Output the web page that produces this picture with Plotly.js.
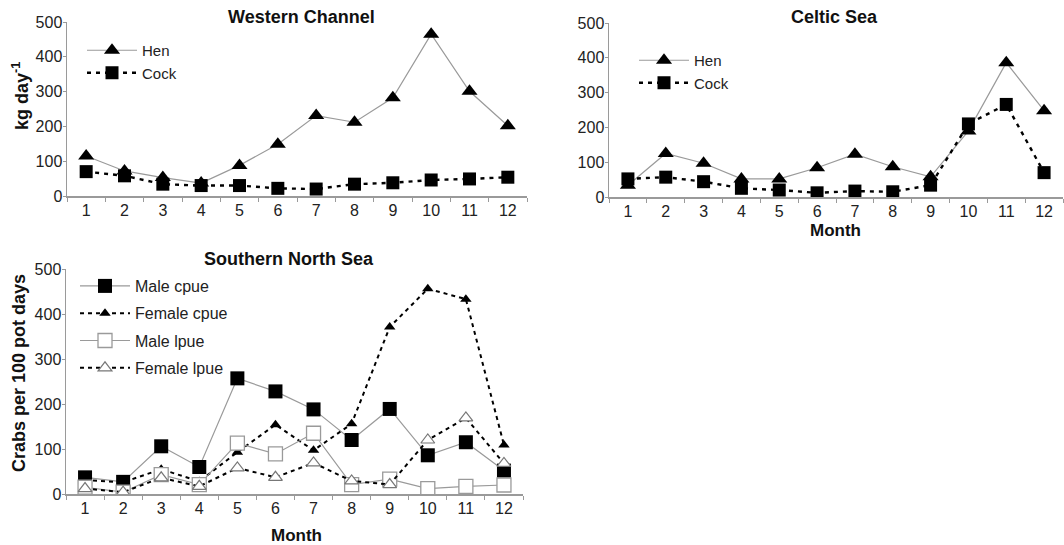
<!DOCTYPE html>
<html><head><meta charset="utf-8">
<script src="https://cdn.plot.ly/plotly-3.0.1.min.js"></script>
<style>html,body{margin:0;padding:0;background:#fff}</style>
</head><body><div id="chart" style="width:1064px;height:545px"></div>
<script>
const months = [1,2,3,4,5,6,7,8,9,10,11,12];
const monthLabels = ['1','2','3','4','5','6','7','8','9','10','11','12'];
const yTicks = [0,100,200,300,400,500];

const wcHen  = [115,72,53,37,88,149,231,212,282,465,301,202];
const wcCock = [70,58,34,30,30,22,20,34,38,46,49,54];

const csHen  = [34,125,97,52,52,84,123,87,58,190,386,248];
const csCock = [52,57,44,25,20,12,17,15,34,210,266,70];

const snMaleCpue   = [37,27,106,60,257,228,188,120,189,86,115,52];
const snFemaleCpue = [31,26,55,28,93,154,97,156,371,456,433,109];
const snMaleLpue   = [15,4,43,21,113,89,135,21,33,12,17,20];
const snFemaleLpue = [12,4,36,17,58,37,69,29,21,120,169,68];

const W = 1064, H = 545;
const px = v => v / W;
const py = v => 1 - v / H;

const grey = '#9a9a9a';
const solidLine = {color: grey, width: 1.2};
const dashLine = {color: '#000', width: 2.4, dash: '4px,5px'};

const traces = [
  {x: months, y: wcHen, name: 'Hen', mode: 'lines+markers', xaxis: 'x', yaxis: 'y', legend: 'legend',
   line: solidLine, marker: {symbol: 'triangle-up', size: 14, color: '#000'}},
  {x: months, y: wcCock, name: 'Cock', mode: 'lines+markers', xaxis: 'x', yaxis: 'y', legend: 'legend',
   line: dashLine, marker: {symbol: 'square', size: 13, color: '#000'}},
  {x: months, y: csHen, name: 'Hen', mode: 'lines+markers', xaxis: 'x2', yaxis: 'y2', legend: 'legend2',
   line: solidLine, marker: {symbol: 'triangle-up', size: 14, color: '#000'}},
  {x: months, y: csCock, name: 'Cock', mode: 'lines+markers', xaxis: 'x2', yaxis: 'y2', legend: 'legend2',
   line: dashLine, marker: {symbol: 'square', size: 13, color: '#000'}},
  {x: months, y: snMaleCpue, name: 'Male cpue', mode: 'lines+markers', xaxis: 'x3', yaxis: 'y3', legend: 'legend3', legendgroup: 'a',
   line: solidLine, marker: {symbol: 'square', size: 14, color: '#000'}},
  {x: months, y: snFemaleCpue, name: 'Female cpue', mode: 'lines+markers', xaxis: 'x3', yaxis: 'y3', legend: 'legend3', legendgroup: 'b',
   line: {color: '#000', width: 2, dash: '4px,4px'}, marker: {symbol: 'triangle-up', size: 10, color: '#000'}},
  {x: months, y: snMaleLpue, name: 'Male lpue', mode: 'lines+markers', xaxis: 'x3', yaxis: 'y3', legend: 'legend3', legendgroup: 'c',
   line: solidLine, marker: {symbol: 'square', size: 14, color: '#fff', line: {color: grey, width: 1.3}}},
  {x: months, y: snFemaleLpue, name: 'Female lpue', mode: 'lines+markers', xaxis: 'x3', yaxis: 'y3', legend: 'legend3', legendgroup: 'd',
   line: {color: '#000', width: 2, dash: '4px,4px'}, marker: {symbol: 'triangle-up', size: 12, color: '#fff', line: {color: '#777', width: 1.2}}}
];

const tickFont = {family: 'Liberation Sans, Arial, sans-serif', size: 16, color: '#222'};

function xax(d0, d1, anchor) {
  return {domain: [px(d0), px(d1)], anchor: anchor, range: [0.5, 12.5],
    tickmode: 'array', tickvals: months, ticktext: monthLabels, ticks: '',
    minor: {tickmode: 'array', tickvals: [0.5,1.5,2.5,3.5,4.5,5.5,6.5,7.5,8.5,9.5,10.5,11.5,12.5], ticks: 'outside', ticklen: 4, tickcolor: grey, tickwidth: 1},
    showline: true, linecolor: grey, linewidth: 1.5, showgrid: false, zeroline: false,
    ticklabelstandoff: -1, tickfont: tickFont, fixedrange: true};
}
function yax(top, bottom, anchor) {
  return {domain: [py(bottom), py(top)], anchor: anchor, range: [0, 500],
    tickmode: 'array', tickvals: yTicks, ticks: 'outside', ticklen: 3, tickcolor: grey,
    showline: true, linecolor: grey, linewidth: 1.5, showgrid: false, zeroline: false,
    ticklabelstandoff: -3, tickfont: tickFont, fixedrange: true};
}

const legFont = {family: 'Liberation Sans, Arial, sans-serif', size: 15, color: '#222'};
const legFont3 = {family: 'Liberation Sans, Arial, sans-serif', size: 16, color: '#222'};
const bold = {family: 'Liberation Sans, Arial, sans-serif', size: 18, color: '#111', weight: 'bold'};
const boldY = {family: 'Liberation Sans, Arial, sans-serif', size: 18, color: '#111', weight: 'bold'};
const boldM = {family: 'Liberation Sans, Arial, sans-serif', size: 17, color: '#111', weight: 'bold'};

function ann(text, x, y, font, angle) {
  return {text: text, x: px(x), y: py(y), xref: 'paper', yref: 'paper', xanchor: 'center', yanchor: 'middle',
    showarrow: false, font: font, textangle: angle || 0};
}

const layout = {
  width: W, height: H,
  margin: {l: 0, r: 0, t: 0, b: 0},
  paper_bgcolor: '#fff', plot_bgcolor: '#fff',
  showlegend: true,
  xaxis: xax(67, 527, 'y'),
  yaxis: yax(22, 196, 'x'),
  xaxis2: xax(609, 1063, 'y2'),
  yaxis2: yax(23, 197, 'x2'),
  xaxis3: xax(66, 523, 'y3'),
  yaxis3: yax(269, 494, 'x3'),
  legend: {x: px(82), y: py(34), xanchor: 'left', yanchor: 'top', bgcolor: 'rgba(0,0,0,0)', font: legFont, itemwidth: 50, tracegroupgap: 0},
  legend2: {x: px(634), y: py(44), xanchor: 'left', yanchor: 'top', bgcolor: 'rgba(0,0,0,0)', font: legFont, itemwidth: 50, tracegroupgap: 0},
  legend3: {x: px(75), y: py(269), xanchor: 'left', yanchor: 'top', bgcolor: 'rgba(0,0,0,0)', font: legFont3, itemwidth: 50, tracegroupgap: 3.5, traceorder: 'grouped'},
  annotations: [
    ann('Western Channel', 301, 17, bold),
    ann('Celtic Sea', 834, 17, bold),
    ann('Southern North Sea', 289, 259, bold),
    ann('kg day<sup>-1</sup>', 20, 96, boldY, -90),
    ann('Crabs per 100 pot days', 19, 373, boldY, -90),
    ann('Month', 835, 230, boldM),
    ann('Month', 296, 535, boldM)
  ]
};

Plotly.newPlot('chart', traces, layout, {displayModeBar: false, staticPlot: true});
</script>
</body></html>
